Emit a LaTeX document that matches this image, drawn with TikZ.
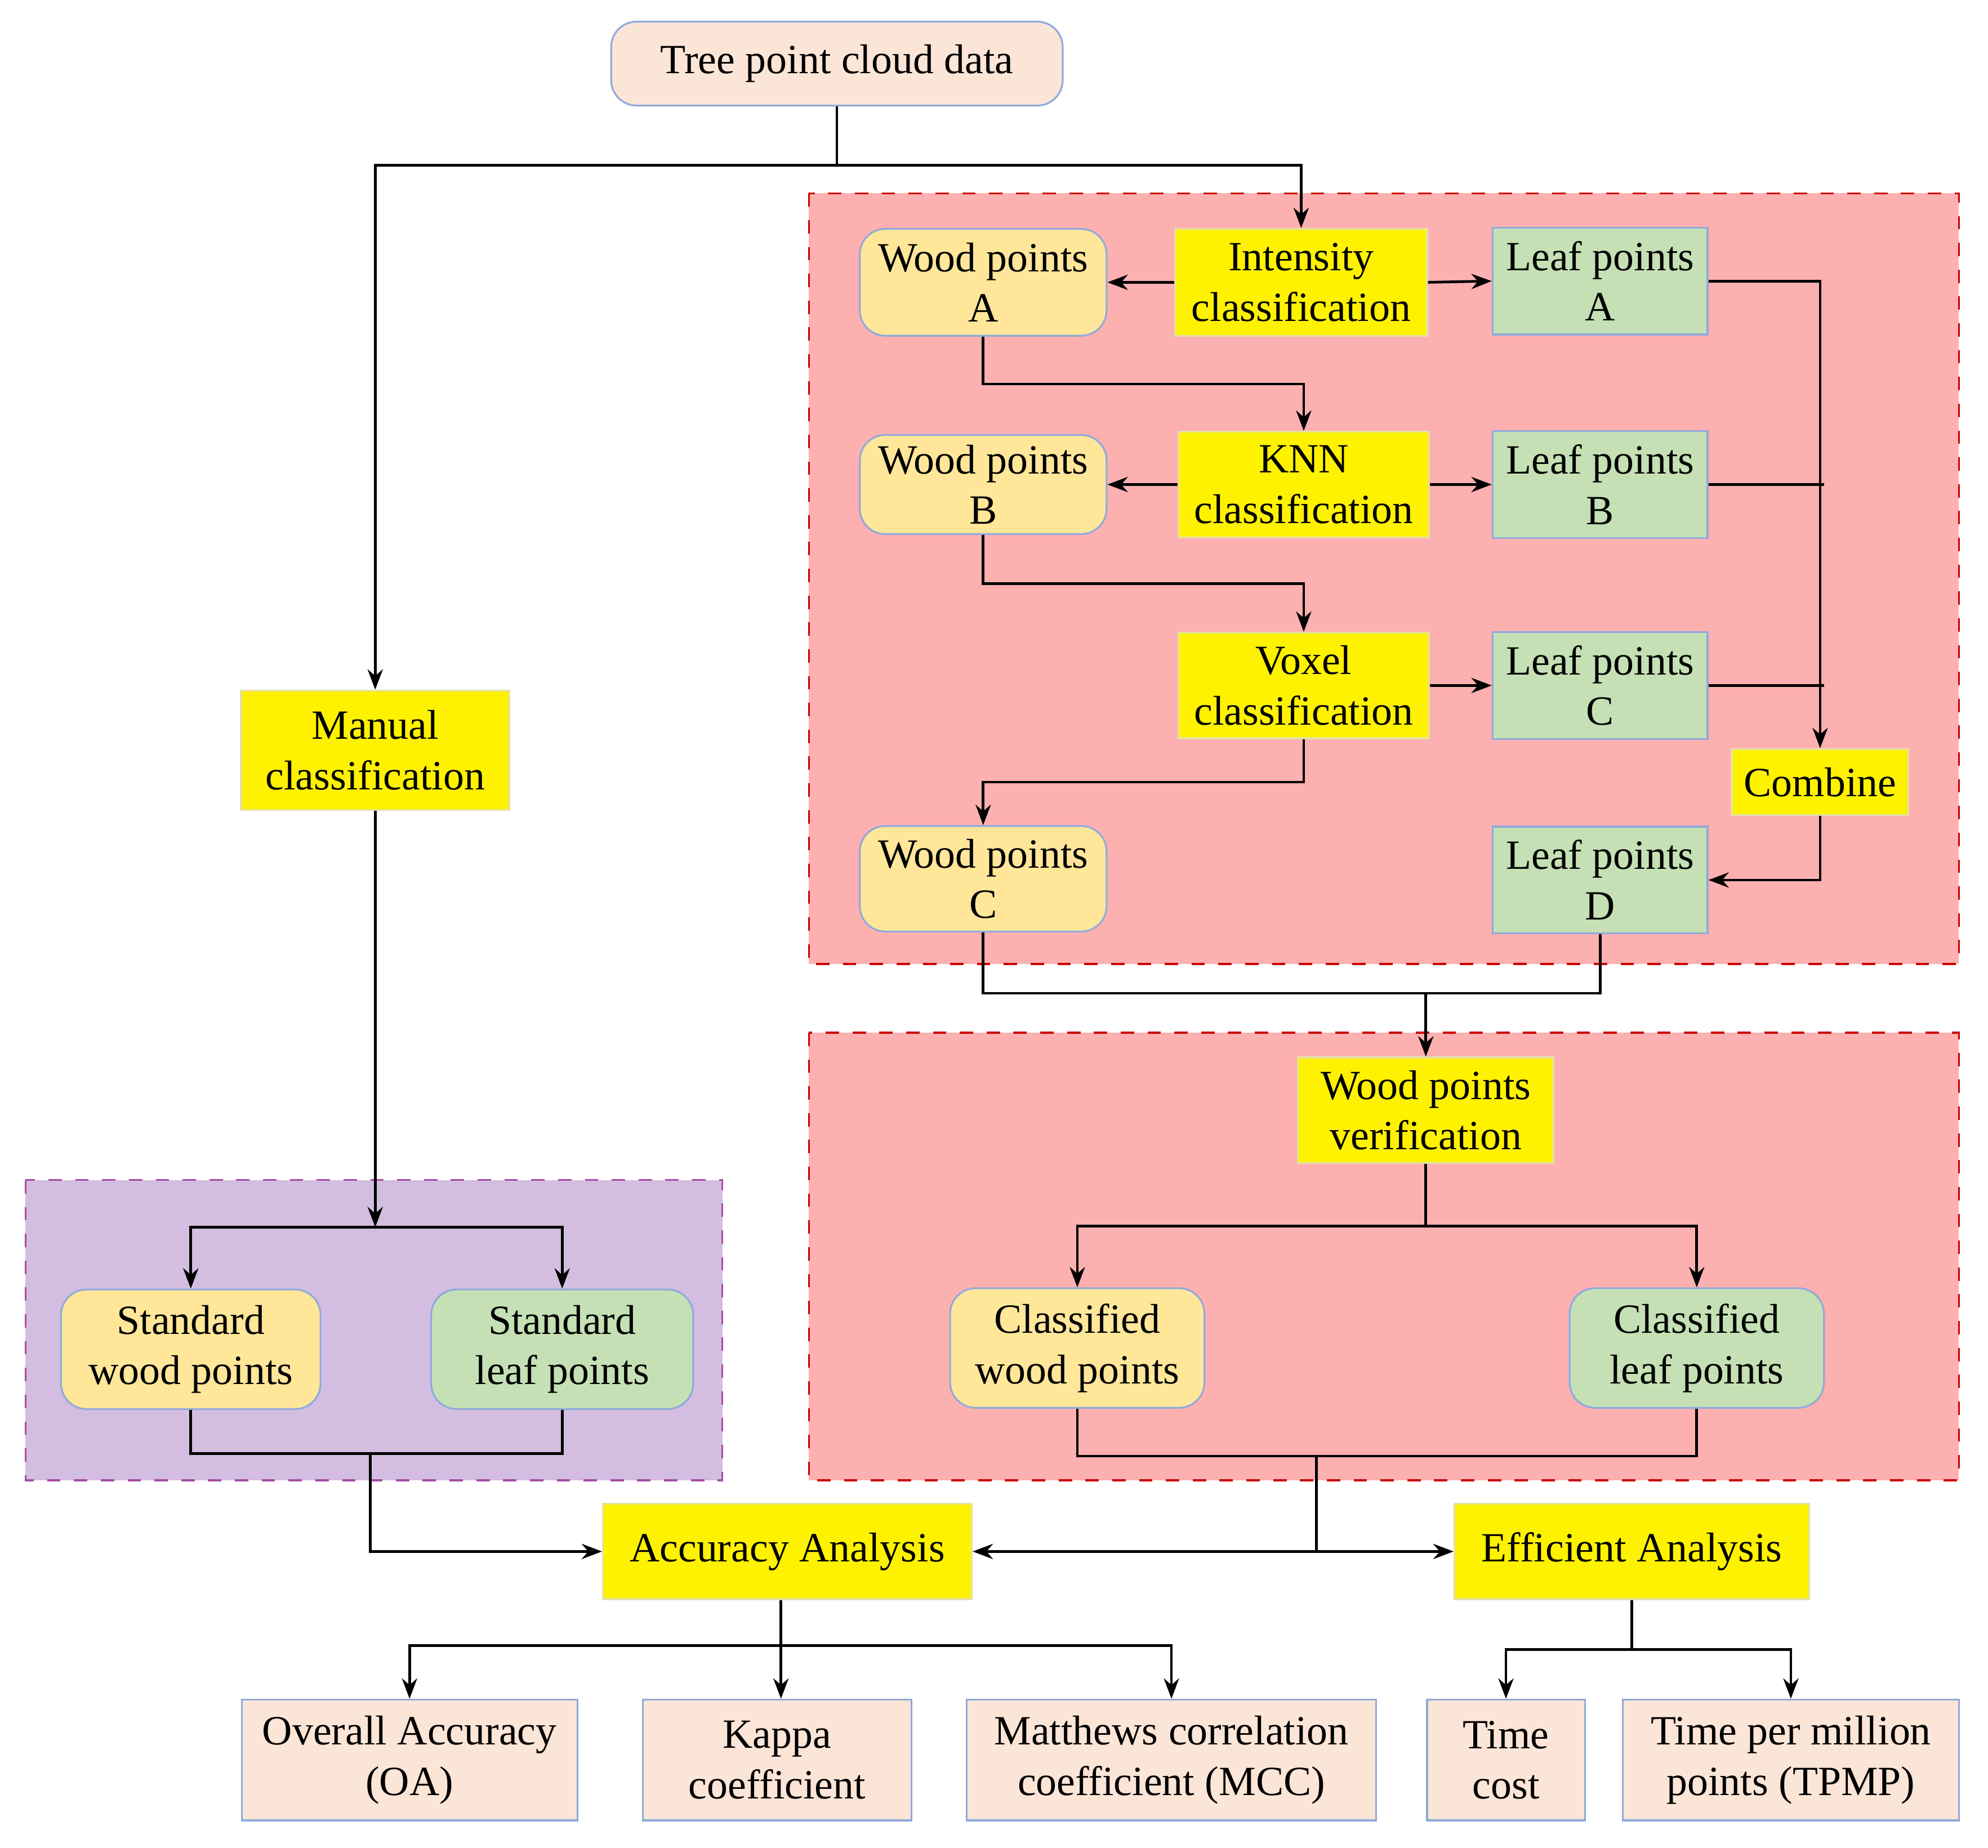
\documentclass[tikz,border=0pt]{standalone}
\usepackage{fontspec}
\setmainfont{Liberation Serif}
\usetikzlibrary{arrows.meta}
\definecolor{peach}{HTML}{FBE5D6}
\definecolor{woodc}{HTML}{FFE699}
\definecolor{leafc}{HTML}{C5E0B4}
\definecolor{regred}{HTML}{FDB0B0}
\definecolor{regpur}{HTML}{D3BDE0}
\definecolor{edgec}{HTML}{8FAADC}
\begin{document}
\begin{tikzpicture}[x=0.1mm,y=-0.1mm,
  base/.style={draw=edgec,line width=0.4pt,inner sep=0pt,align=center,font=\fontsize{9.3}{11.3}\selectfont},
  peachb/.style={base,fill=peach},
  woodb/.style={base,fill=woodc,rounded corners=2mm},
  leafb/.style={base,fill=leafc},
  leafr/.style={base,fill=leafc,rounded corners=2mm},
  yel/.style={base,fill=yellow,draw=yellow!70!black!40},
  reg/.style={dashed,draw=red!80!black,fill=regred,line width=0.4pt},
  regp/.style={dashed,draw=violet!70,fill=regpur,line width=0.4pt},
  ln/.style={line width=0.6pt},
  ar/.style={ln,-{Stealth[length=1.6mm,width=1.2mm]}}]
\useasboundingbox (0,0) rectangle (1563,1453);
\fill[white] (0,0) rectangle (1563,1453);
\draw[reg] (636,152) rectangle (1540,758);
\draw[reg] (636,812) rectangle (1540,1164);
\draw[regp] (20,928) rectangle (568,1164);

\node[peachb,rounded corners=2mm,minimum width=35.5mm,minimum height=6.6mm] (tree) at (658,50) {Tree point cloud data};
\node[woodb,minimum width=19.4mm,minimum height=8.4mm] (wA) at (773,222) {Wood points\\A};
\node[yel,minimum width=19.8mm,minimum height=8.4mm] (int) at (1023,222) {Intensity\\classification};
\node[leafb,minimum width=16.9mm,minimum height=8.4mm] (lA) at (1258,221) {Leaf points\\A};
\node[woodb,minimum width=19.4mm,minimum height=7.8mm] (wB) at (773,381) {Wood points\\B};
\node[yel,minimum width=19.7mm,minimum height=8.3mm] (knn) at (1025,381) {KNN\\classification};
\node[leafb,minimum width=16.9mm,minimum height=8.4mm] (lB) at (1258,381) {Leaf points\\B};
\node[yel,minimum width=19.7mm,minimum height=8.3mm] (vox) at (1025,539) {Voxel\\classification};
\node[leafb,minimum width=16.9mm,minimum height=8.4mm] (lC) at (1258,539) {Leaf points\\C};
\node[yel,minimum width=13.9mm,minimum height=5.2mm] (comb) at (1431,615) {Combine};
\node[woodb,minimum width=19.4mm,minimum height=8.3mm] (wC) at (773,691) {Wood points\\C};
\node[leafb,minimum width=16.9mm,minimum height=8.4mm] (lD) at (1258,692) {Leaf points\\D};
\node[yel,minimum width=21.1mm,minimum height=9.4mm] (man) at (295,590) {Manual\\classification};
\node[yel,minimum width=20.1mm,minimum height=8.3mm] (ver) at (1121,873) {Wood points\\verification};
\node[woodb,minimum width=20mm,minimum height=9.4mm] (cw) at (847,1060) {Classified\\wood points};
\node[leafr,minimum width=20mm,minimum height=9.4mm] (cl) at (1334,1060) {Classified\\leaf points};
\node[woodb,minimum width=20.4mm,minimum height=9.4mm] (sw) at (150,1061) {Standard\\wood points};
\node[leafr,minimum width=20.6mm,minimum height=9.4mm] (sl) at (442,1061) {Standard\\leaf points};
\node[yel,minimum width=29mm,minimum height=7.5mm] (acc) at (619,1220) {Accuracy Analysis};
\node[yel,minimum width=27.9mm,minimum height=7.5mm] (eff) at (1283,1220) {Efficient Analysis};
\node[peachb,minimum width=26.4mm,minimum height=9.5mm] (oa) at (322,1384) {Overall Accuracy\\(OA)};
\node[peachb,minimum width=21.1mm,minimum height=9.5mm] (kap) at (611,1384) {Kappa\\coefficient};
\node[peachb,minimum width=32.2mm,minimum height=9.5mm] (mcc) at (921,1384) {Matthews correlation\\coefficient (MCC)};
\node[peachb,minimum width=12.4mm,minimum height=9.5mm] (tc) at (1184,1384) {Time\\cost};
\node[peachb,minimum width=26.4mm,minimum height=9.5mm] (tp) at (1408,1384) {Time per million\\points (TPMP)};

\coordinate (tj) at (658,130);
\draw[ln] (tree.south) -- (tj);
\draw[ar] (tj) -| (man.north);
\draw[ar] (tj) -| (int.north);
\draw[ar] (int.west) -- (wA.east);
\draw[ar] (int.east) -- (lA.west);
\draw[ar] (wA.south) |- (1025,302) -- (knn.north);
\draw[ar] (knn.west) -- (wB.east);
\draw[ar] (knn.east) -- (lB.west);
\draw[ar] (wB.south) |- (1025,459) -- (vox.north);
\draw[ar] (vox.east) -- (lC.west);
\draw[ar] (vox.south) |- (773,615) -- (wC.north);
\draw[ar] (lA.east) -| (comb.north);
\draw[ln] (lB.east) -- (1434,381);
\draw[ln] (lC.east) -- (1434,539);
\draw[ar] (comb.south) |- (lD.east);
\coordinate (vj) at (1121,781);
\draw[ln] (wC.south) |- (vj);
\draw[ln] (lD.south) |- (vj);
\draw[ar] (vj) -- (ver.north);
\coordinate (vj2) at (1121,964);
\draw[ln] (ver.south) -- (vj2);
\draw[ar] (vj2) -| (cw.north);
\draw[ar] (vj2) -| (cl.north);
\coordinate (cj) at (1035,1145);
\draw[ln] (cw.south) |- (cj);
\draw[ln] (cl.south) |- (cj);
\coordinate (cj2) at (1035,1220);
\draw[ln] (cj) -- (cj2);
\draw[ar] (cj2) -- (acc.east);
\draw[ar] (cj2) -- (eff.west);
\coordinate (mj) at (295,965);
\draw[ar] (man.south) -- (mj);
\draw[ar] (mj) -| (sw.north);
\draw[ar] (mj) -| (sl.north);
\coordinate (sj) at (291,1143);
\draw[ln] (sw.south) |- (sj);
\draw[ln] (sl.south) |- (sj);
\draw[ar] (sj) |- (acc.west);
\coordinate (aj) at (614,1294);
\draw[ar] (acc.south -| aj) -- (kap.north -| aj);
\draw[ar] (aj) -| (oa.north);
\draw[ar] (aj) -| (mcc.north);
\coordinate (ej) at (1283,1297);
\draw[ln] (eff.south) -- (ej);
\draw[ar] (ej) -| (tc.north);
\draw[ar] (ej) -| (tp.north);
\end{tikzpicture}
\end{document}
